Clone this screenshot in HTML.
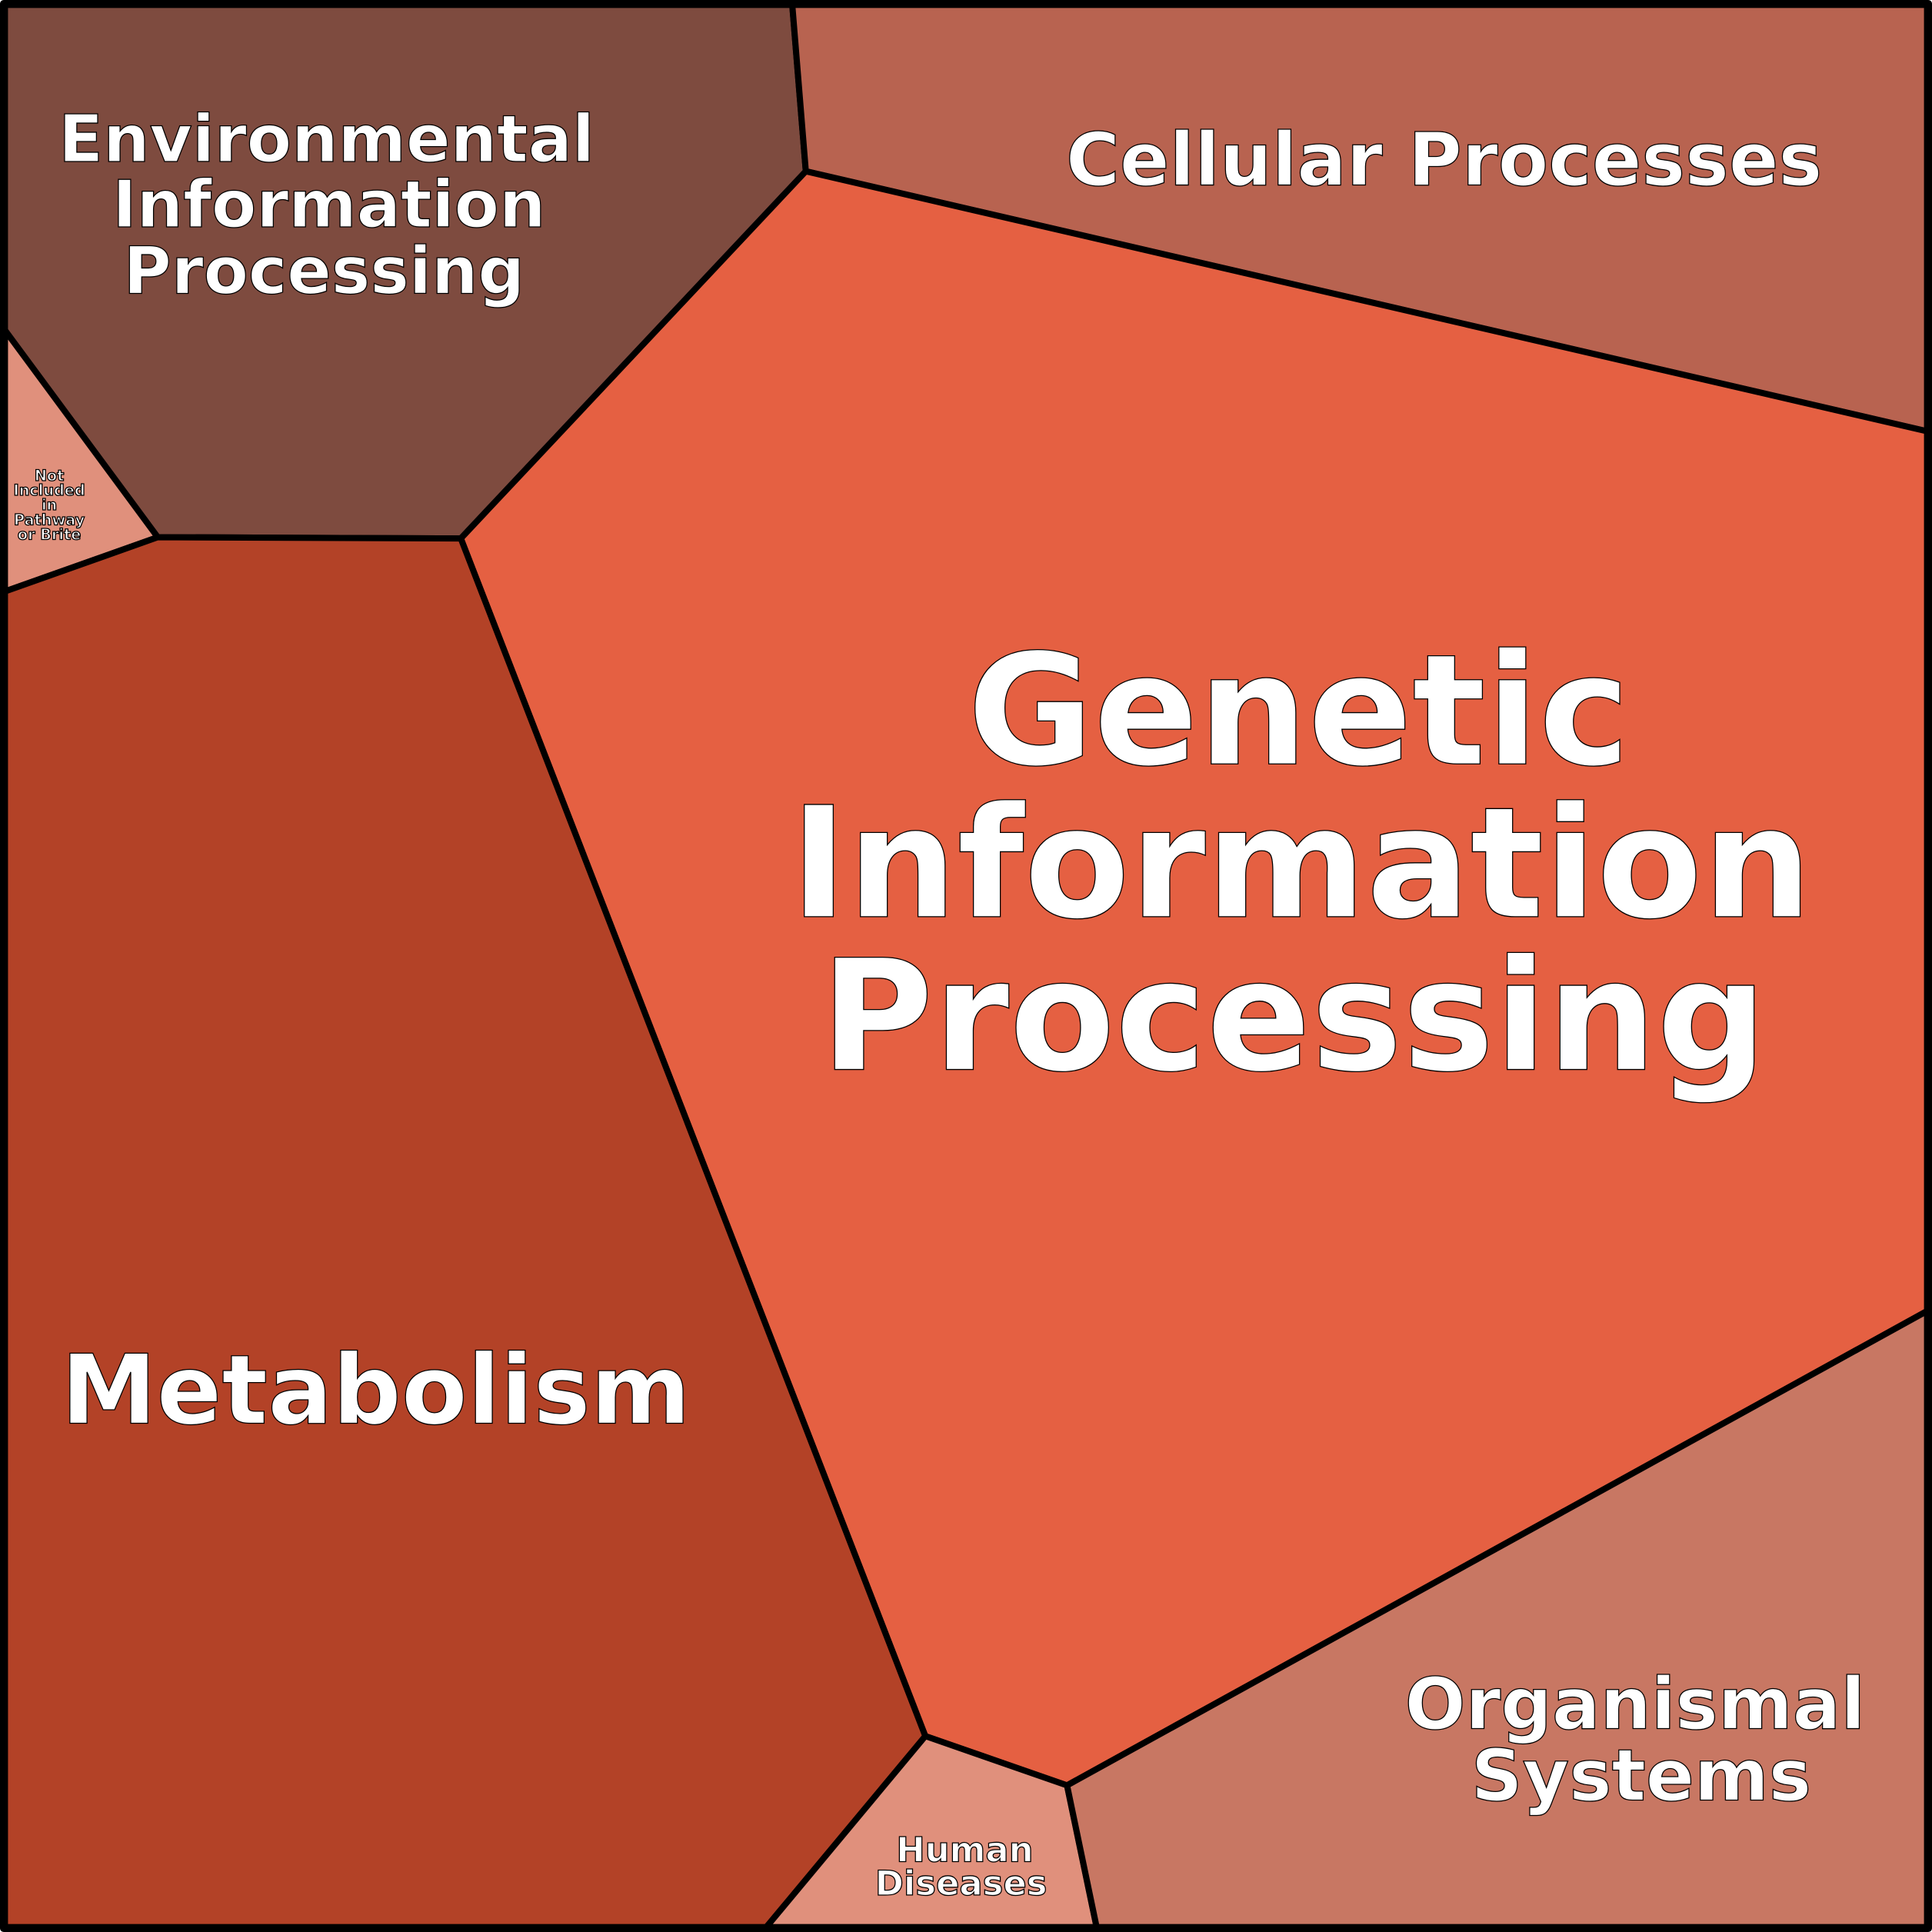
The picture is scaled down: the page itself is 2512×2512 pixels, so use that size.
<!DOCTYPE html>
<html><head><meta charset="utf-8"><style>
html,body{margin:0;padding:0;background:#fff}
svg{display:block}
text{font-family:"DejaVu Sans","Liberation Sans",sans-serif;font-weight:bold;fill:#fff;stroke:#000;stroke-width:0.8;text-anchor:middle}
</style></head><body>
<svg width="2512" height="2512" viewBox="0 0 1568 1568" xmlns="http://www.w3.org/2000/svg">
<g stroke="#000" stroke-width="5" stroke-linejoin="round">
<polygon points="4,4 643,4 654,139 374,437 128,436 4,268" fill="#7e4b3f"/>
<polygon points="643,4 1564,4 1564,350 654,139" fill="#b86350"/>
<polygon points="654,139 1564,350 1564,1064 866,1449 751,1409 374,437" fill="#e56042"/>
<polygon points="4,268 128,436 4,480" fill="#e0907c"/>
<polygon points="4,480 128,436 374,437 751,1409 622,1564 4,1564" fill="#b34227"/>
<polygon points="751,1409 866,1449 890,1564 622,1564" fill="#e0907c"/>
<polygon points="866,1449 1564,1064 1564,1564 890,1564" fill="#c87763"/>
<rect x="3" y="3" width="1562" height="1562" fill="none" stroke-width="6"/>
</g>
<g font-size="125">
<text x="1054" y="620">Genetic</text>
<text x="1056" y="744">Information</text>
<text x="1050" y="868">Processing</text>
</g>
<text x="305" y="1155" font-size="78">Metabolism</text>
<g font-size="53">
<text x="265" y="131">Environmental</text>
<text x="267" y="184">Information</text>
<text x="263" y="238">Processing</text>
</g>
<text x="1172" y="150" font-size="59.5">Cellular Processes</text>
<g font-size="58">
<text x="1327" y="1403">Organismal</text>
<text x="1332" y="1461">Systems</text>
</g>
<g font-size="28" stroke-width="0.5">
<text x="783" y="1511">Human</text>
<text x="780" y="1538">Diseases</text>
</g>
<g font-size="12" stroke-width="0.3">
<text x="40" y="390">Not</text>
<text x="40" y="402">Included</text>
<text x="40" y="414">in</text>
<text x="40" y="426">Pathway</text>
<text x="40" y="438">or Brite</text>
</g>
</svg>
</body></html>
